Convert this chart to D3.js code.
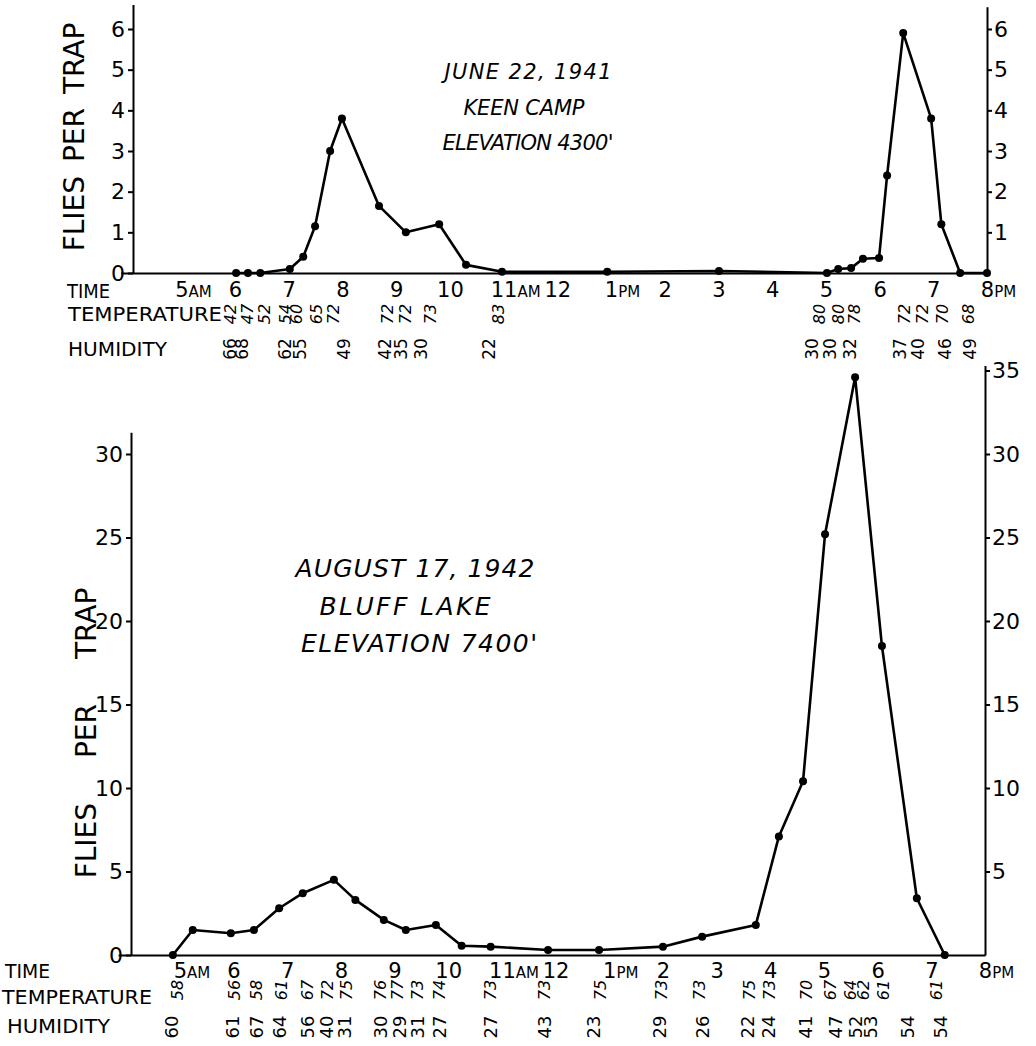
<!DOCTYPE html>
<html><head><meta charset="utf-8">
<script src="https://cdn.jsdelivr.net/npm/d3@7"></script>
<style>
body{margin:0;background:#fff}
svg{display:block;background:#fff}
text{font-family:"DejaVu Sans",sans-serif;fill:#000}
</style>
</head><body>
<svg id="c" width="1036" height="1046"></svg>
<script>
// ---------- shared labels ----------
const hourValues = [5,6,7,8,9,10,11,12,13,14,15,16,17,18,19,20];
const hourNums   = [5,6,7,8,9,10,11,12,1,2,3,4,5,6,7,8];
const hourSuffix = ["AM","","","","","","AM","","PM","","","","","","","PM"];
const rowLabels  = ["TIME","TEMPERATURE","HUMIDITY"];
const yAxisLabel = "FLIES PER TRAP";

// ---------- June 22, 1941 - Keen Camp ----------
const juneTitle = ["JUNE 22, 1941","KEEN CAMP","ELEVATION 4300'"];
const juneTime  = [6.02,6.24,6.47,7.02,7.27,7.49,7.77,7.99,8.68,9.18,9.80,10.30,10.97,12.93,15.01,17.02,17.23,17.47,17.69,17.99,18.14,18.44,18.96,19.15,19.50,20.0];
const juneFlies = [0,0,0,0.1,0.4,1.15,3.0,3.8,1.65,1.0,1.2,0.2,0.03,0.03,0.05,0,0.1,0.12,0.35,0.37,2.4,5.9,3.8,1.2,0,0];
const juneTempTime = [5.91,6.24,6.54,6.93,7.15,7.51,7.84,8.83,9.18,9.63,10.90,16.89,17.23,17.54,18.47,18.79,19.18,19.65];
const juneTemp     = [42,47,52,54,60,65,72,72,72,73,83,80,80,78,72,72,70,68];
const juneHumTime  = [5.91,6.13,6.93,7.21,8.03,8.79,9.09,9.46,10.73,16.74,17.08,17.45,18.38,18.72,19.22,19.69];
const juneHum      = [66,68,62,55,49,42,35,30,22,30,30,32,37,40,46,49];
const juneTicksLeft  = [0,1,2,3,4,5,6];
const juneTicksRight = [1,2,3,4,5,6];

// ---------- August 17, 1942 - Bluff Lake ----------
const augTitle = ["AUGUST 17, 1942","BLUFF LAKE","ELEVATION 7400'"];
const augTime  = [4.87,5.24,5.95,6.38,6.85,7.29,7.87,8.27,8.80,9.21,9.77,10.25,10.79,11.86,12.81,14.00,14.73,15.73,16.16,16.61,17.02,17.58,18.08,18.73,19.25];
const augFlies = [0,1.5,1.3,1.5,2.8,3.7,4.5,3.3,2.1,1.5,1.8,0.55,0.5,0.3,0.3,0.5,1.1,1.8,7.1,10.4,25.2,34.6,18.5,3.4,0];
const augTempTime = [4.96,6.02,6.43,6.90,7.37,7.76,8.11,8.73,9.06,9.43,9.84,10.78,11.80,12.83,13.98,14.69,15.62,15.99,16.68,17.13,17.50,17.74,18.10,19.10];
const augTemp     = [58,56,58,61,67,72,75,76,77,73,74,73,73,75,73,73,75,73,70,67,64,62,61,61];
const augHumTime  = [4.85,5.99,6.42,6.86,7.37,7.74,8.07,8.73,9.10,9.43,9.84,10.78,11.80,12.70,13.94,14.73,15.58,15.96,16.65,17.22,17.58,17.86,18.55,19.18];
const augHum      = [60,61,67,64,56,40,31,30,29,31,27,27,43,23,29,26,22,24,41,47,52,53,54,54];
const augTicksLeft  = [0,5,10,15,20,25,30];
const augTicksRight = [5,10,15,20,25,30,35];

const svg = d3.select("#c");

function panel(o){
  const g = svg.append("g");
  const x = d3.scaleLinear().domain([o.hLeft, 20]).range([o.xLeft, o.xRight]);
  const y = d3.scaleLinear().domain([0, o.unit]).range([o.y0, o.yUnit]);
  const yL = y.copy().domain([0, o.leftTop]).range([o.y0, y(o.leftTop)]);
  const yR = y.copy().domain([0, o.rightTop]).range([o.y0, y(o.rightTop)]);

  // left axis
  const gl = g.append("g").attr("transform",`translate(${o.xLeft},0)`)
    .call(d3.axisLeft(yL).tickValues(o.ticksL).tickSize(5).tickPadding(3).tickSizeOuter(0).tickFormat(d3.format("d")));
  // right axis
  const gr = g.append("g").attr("transform",`translate(${o.xRight},0)`)
    .call(d3.axisRight(yR).tickValues(o.ticksR).tickSize(5).tickPadding(2).tickSizeOuter(0).tickFormat(d3.format("d")));
  [gl,gr].forEach(a=>{
    a.attr("font-family",null).attr("font-size",null);
    a.selectAll("path,line").attr("stroke","#000").attr("stroke-width",2);
    a.selectAll("text").attr("font-size",o.tickFont);
  });

  // x axis (time)
  const xa = x.copy().domain([o.hAxisStart,20]).range([x(o.hAxisStart), o.xRight]);
  const gx = g.append("g").attr("transform",`translate(0,${o.y0})`)
    .call(d3.axisBottom(xa).tickValues(hourValues).tickSize(0).tickPadding(o.hourPad)
      .tickFormat((d,i)=>hourNums[i]));
  gx.attr("font-family",null).attr("font-size",null);
  gx.select("path").attr("stroke","#000").attr("stroke-width",2);
  gx.selectAll(".tick text").attr("font-size",21).each(function(d,i){
    const s = hourSuffix[i];
    if(!s) return;
    const t = d3.select(this);
    const w = this.getComputedTextLength();
    t.attr("text-anchor","start").attr("x",-w/2);
    t.append("tspan").attr("font-size",15).text(s);
  });

  // data line + points
  const pts = d3.zip(o.time, o.flies);
  g.append("path").datum(pts)
    .attr("fill","none").attr("stroke","#000").attr("stroke-width",2.6).attr("stroke-linejoin","round")
    .attr("d", d3.line().x(d=>x(d[0])).y(d=>y(d[1])));
  g.selectAll("circle.pt").data(pts).join("circle").attr("class","pt")
    .attr("cx",d=>x(d[0])).attr("cy",d=>y(d[1])).attr("r",4).attr("fill","#000");

  // row labels
  g.selectAll("text.row").data(rowLabels).join("text").attr("class","row")
    .attr("x",(d,i)=>o.rowX[i]).attr("y",(d,i)=>o.rowY[i])
    .attr("dominant-baseline","central").attr("font-size",20)
    .attr("textLength",(d,i)=>o.rowW[i]).attr("lengthAdjust","spacingAndGlyphs")
    .text(d=>d);

  // temperature and humidity readings
  g.selectAll("text.temp").data(d3.zip(o.tempTime,o.temp)).join("text").attr("class","temp")
    .attr("transform",d=>`translate(${x(d[0])},${o.tempY}) rotate(-90)`)
    .attr("text-anchor","middle").attr("dominant-baseline","central")
    .attr("font-style","italic").attr("font-size",o.tempFont).text(d=>d[1]);
  g.selectAll("text.hum").data(d3.zip(o.humTime,o.hum)).join("text").attr("class","hum")
    .attr("transform",d=>`translate(${x(d[0])},${o.humY}) rotate(-90)`)
    .attr("text-anchor","middle").attr("dominant-baseline","central")
    .attr("font-size",o.humFont).text(d=>d[1]);

  // y label
  g.append("text").attr("transform",`translate(${o.ylab[0]},${o.ylab[1]}) rotate(-90)`)
    .attr("text-anchor","middle").attr("dominant-baseline","central")
    .attr("font-size",o.ylab[3]).attr("word-spacing",o.ylab[2])
    .text(yAxisLabel);

  // title block
  g.selectAll("text.title").data(o.title).join("text").attr("class","title")
    .attr("x",(d,i)=>o.titlePos[i][0]).attr("y",(d,i)=>o.titlePos[i][1])
    .attr("text-anchor","middle").attr("dominant-baseline","central")
    .attr("font-style","italic").attr("font-size",o.titleFont)
    .attr("textLength",(d,i)=>o.titlePos[i][2]).attr("lengthAdjust","spacing")
    .text(d=>d);
}

panel({
  hLeft:4.10, xLeft:133, xRight:987, hAxisStart:3.87,
  unit:6, y0:273, yUnit:29, leftTop:6.6, rightTop:6.55,
  ticksL:juneTicksLeft, ticksR:juneTicksRight, tickFont:22, hourPad:9,
  time:juneTime, flies:juneFlies,
  rowX:[67,68,68], rowY:[291,314,349], rowW:[43,154,99],
  tempTime:juneTempTime, temp:juneTemp, tempY:314, tempFont:16,
  humTime:juneHumTime, hum:juneHum, humY:349, humFont:17,
  ylab:[74,137,5,28],
  title:juneTitle, titleFont:21,
  titlePos:[[528,72,167],[524,108,121],[528,143,171]]
});

panel({
  hLeft:4.09, xLeft:131, xRight:985, hAxisStart:3.85,
  unit:30, y0:955, yUnit:454, leftTop:31.3, rightTop:35.3,
  ticksL:augTicksLeft, ticksR:augTicksRight, tickFont:22, hourPad:8,
  time:augTime, flies:augFlies,
  rowX:[5,2,7], rowY:[971,997,1026], rowW:[45,150,103],
  tempTime:augTempTime, temp:augTemp, tempY:990, tempFont:16,
  humTime:augHumTime, hum:augHum, humY:1027, humFont:18,
  ylab:[86,733,36,28],
  title:augTitle, titleFont:25,
  titlePos:[[415,568,239],[405,606,171],[419,643,236]]
});
</script>
</body></html>
